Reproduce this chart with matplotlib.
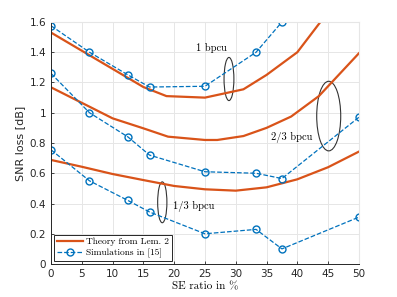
import matplotlib
matplotlib.use("Agg")
import matplotlib.pyplot as plt
from matplotlib.patches import Ellipse

# simulation points (SE ratio in %)
sim_x = [0, 6.25, 12.5, 16, 25, 33.3, 37.5, 50]
sim_1 = [1.575, 1.40, 1.25, 1.17, 1.175, 1.40, 1.60, 2.0]
sim_23 = [1.26, 1.00, 0.84, 0.72, 0.61, 0.60, 0.565, 0.97]
sim_13 = [0.755, 0.55, 0.42, 0.344, 0.20, 0.229, 0.10, 0.31]

# theory curves
th1_x = [0, 6.25, 10, 15, 18.75, 25, 31.25, 35, 40, 43.75, 45]
th1_y = [1.53, 1.38, 1.29, 1.17, 1.11, 1.10, 1.155, 1.25, 1.40, 1.60, 1.66]
th23_x = [0, 6.25, 10, 15, 19, 25, 27, 31.25, 35, 39, 43.5, 50]
th23_y = [1.168, 1.04, 0.963, 0.897, 0.842, 0.82, 0.82, 0.846, 0.90, 0.975, 1.11, 1.393]
th13_x = [0, 5, 10, 15, 20, 25, 30, 35, 40, 45, 50]
th13_y = [0.688, 0.643, 0.595, 0.555, 0.516, 0.494, 0.485, 0.507, 0.56, 0.64, 0.743]

red = "#D95319"
blue = "#0072BD"
serif = "cmr10"

fig = plt.figure(figsize=(3.97, 2.97), dpi=100)
ax = fig.add_axes([0.1285, 0.111, 0.7755, 0.815])

ax.plot(th1_x, th1_y, color=red, lw=1.6, label="Theory from Lem. 2")
ax.plot(th23_x, th23_y, color=red, lw=1.6)
ax.plot(th13_x, th13_y, color=red, lw=1.6)

mk = dict(color=blue, ls="--", lw=0.9, marker="o", ms=5, mfc="none", mew=1.0)
ax.plot(sim_x, sim_1, label="Simulations in [15]", **mk)
ax.plot(sim_x, sim_23, **mk)
ax.plot(sim_x, sim_13, **mk)

for cx, cy, w, h in [(28.9, 1.223, 1.6, 0.285), (45.1, 0.978, 3.9, 0.46), (18.07, 0.408, 1.5, 0.27)]:
    ax.add_patch(Ellipse((cx, cy), w, h, fill=False, ec="#333333", lw=0.8))

ax.text(23.6, 1.43, "1 bpcu", fontfamily=serif, fontsize=7.5, va="center")
ax.text(35.8, 0.835, "2/3 bpcu", fontfamily=serif, fontsize=7.5, va="center")
ax.text(19.8, 0.379, "1/3 bpcu", fontfamily=serif, fontsize=7.5, va="center")

ax.set_xlim(0, 50)
ax.set_ylim(0, 1.6)
ax.set_xticks(range(0, 51, 5))
ax.set_yticks([0, 0.2, 0.4, 0.6, 0.8, 1, 1.2, 1.4, 1.6])
ax.set_yticklabels(["0", "0.2", "0.4", "0.6", "0.8", "1", "1.2", "1.4", "1.6"])
ax.tick_params(labelsize=7.5, colors="#262626", length=2.5, width=0.6, direction="in")
ax.grid(True, color="#e6e6e6", lw=0.7)
ax.set_axisbelow(True)
for s in ["top", "right"]:
    ax.spines[s].set_color("#e6e6e6")
for s in ["left", "bottom"]:
    ax.spines[s].set_color("#262626")
    ax.spines[s].set_linewidth(0.7)

ax.set_xlabel("SE ratio in %", fontfamily=serif, fontsize=8, labelpad=2)
ax.set_ylabel("SNR loss [dB]", fontsize=8, color="#262626", labelpad=3)

leg = ax.legend(loc="lower left", prop={"family": serif, "size": 6.8}, fancybox=False,
                edgecolor="#262626", framealpha=1, handlelength=2.8, borderpad=0.3,
                labelspacing=0.3, handletextpad=0.3, borderaxespad=0.3)
leg.get_frame().set_linewidth(0.7)

fig.savefig("out.png", dpi=100)
